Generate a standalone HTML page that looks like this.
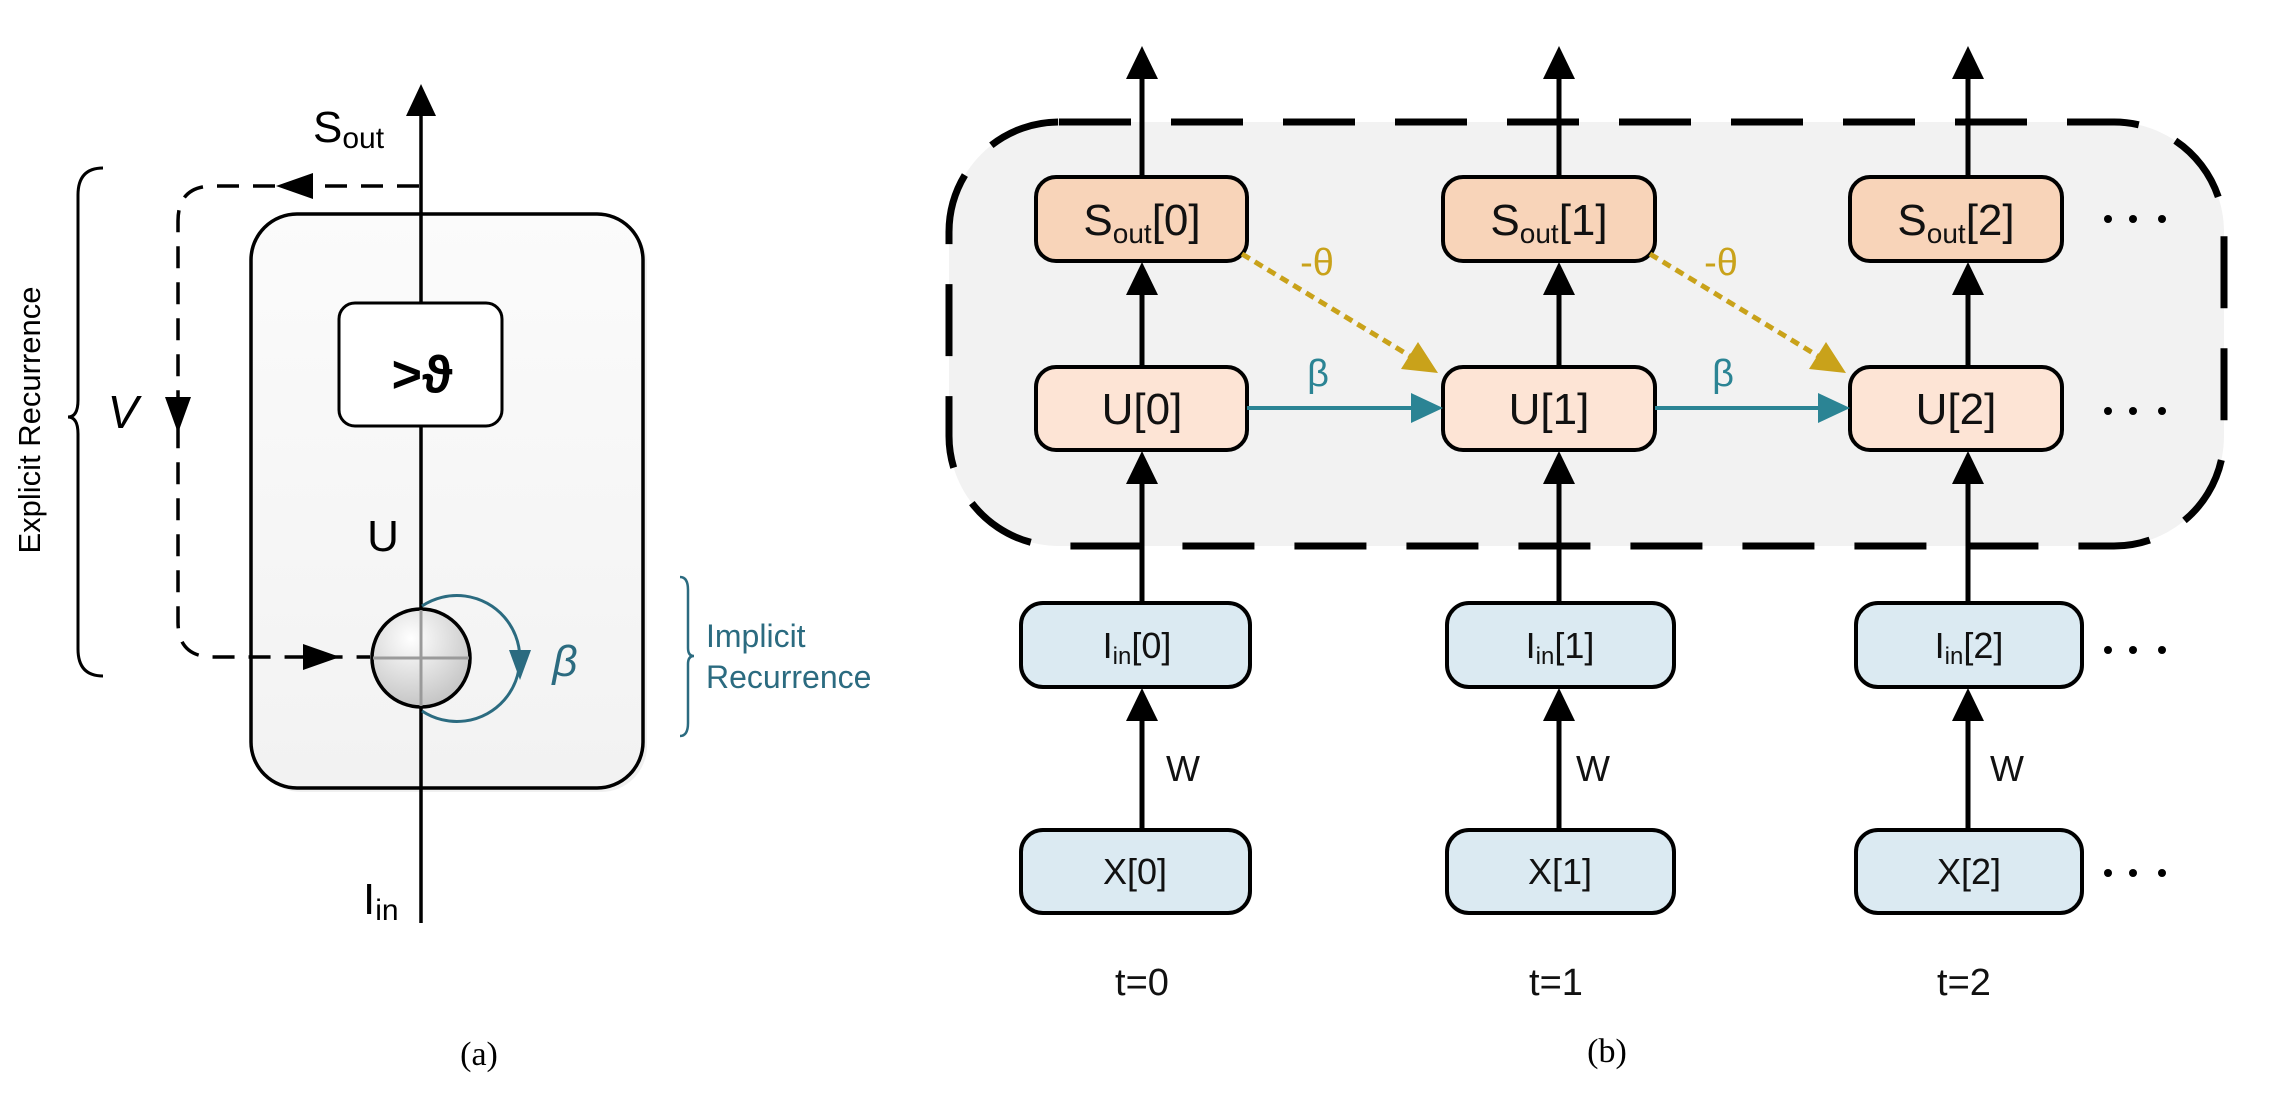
<!DOCTYPE html>
<html><head><meta charset="utf-8"><style>
html,body{margin:0;padding:0;background:#fff;}
svg{display:block;}
text{font-family:"Liberation Sans","DejaVu Sans",sans-serif;}
</style></head><body>
<svg width="2278" height="1100" viewBox="0 0 2278 1100" xmlns="http://www.w3.org/2000/svg">
<defs>
<radialGradient id="cg" cx="0.4" cy="0.3" r="0.8"><stop offset="0" stop-color="#ffffff"/><stop offset="1" stop-color="#bdbdbd"/></radialGradient>
<linearGradient id="bg" x1="0" y1="0" x2="0" y2="1"><stop offset="0" stop-color="#fbfbfb"/><stop offset="1" stop-color="#f2f2f2"/></linearGradient>
</defs>

<!-- ============ Panel (a) ============ -->
<rect x="255" y="218" width="392" height="574" rx="46" fill="#e6e6e6" opacity="0.6"/>
<rect x="251" y="214" width="392" height="574" rx="46" fill="url(#bg)" stroke="#000" stroke-width="3.5"/>
<rect x="339" y="303" width="163" height="123" rx="16" fill="#fff" stroke="#000" stroke-width="3"/>
<text x="422" y="392" font-size="52" font-weight="bold" text-anchor="middle">&gt;ϑ</text>

<line x1="421" y1="110" x2="421" y2="303" stroke="#000" stroke-width="3.5"/>
<line x1="421" y1="426" x2="421" y2="609" stroke="#000" stroke-width="3.5"/>
<line x1="421" y1="707" x2="421" y2="923" stroke="#000" stroke-width="3.5"/>
<polygon points="421,84 406,116 436,116" fill="#000"/>

<path d="M419,186 H213 Q178,186 178,221 V622 Q178,657 213,657 H370" fill="none" stroke="#000" stroke-width="3.5" stroke-dasharray="22 14"/>
<polygon points="276,186 313,173 313,199" fill="#000"/>
<polygon points="165,397 191,397 178,433" fill="#000"/>
<polygon points="340,657 303,644 303,670" fill="#000"/>

<circle cx="421" cy="658" r="49" fill="url(#cg)" stroke="#000" stroke-width="3.5"/>
<line x1="373" y1="658" x2="469" y2="658" stroke="#9a9a9a" stroke-width="3"/>
<line x1="421" y1="610" x2="421" y2="706" stroke="#9a9a9a" stroke-width="3"/>

<path d="M422,606 A63,63 0 1 1 422,711" fill="none" stroke="#2b6b80" stroke-width="3"/>
<polygon points="520,680 509,650 531,650" fill="#2b6b80"/>
<text x="565" y="676" font-size="44" font-style="italic" fill="#2b6b80" text-anchor="middle">β</text>

<text x="313" y="142" font-size="44">S<tspan font-size="30" dy="6">out</tspan></text>
<text x="383" y="551" font-size="44" text-anchor="middle">U</text>
<text x="363" y="914" font-size="44">I<tspan font-size="30" dy="6">in</tspan></text>
<text x="123" y="428" font-size="46" font-style="italic" text-anchor="middle">V</text>

<path d="M103,168 Q78,168 78,195 V400 Q78,417 68,417 Q78,417 78,434 V649 Q78,676 103,676" fill="none" stroke="#000" stroke-width="3"/>
<text transform="translate(40,420) rotate(-90)" font-size="31" text-anchor="middle">Explicit Recurrence</text>

<path d="M680,577 Q688,577 688,590 V648 Q688,656 694,656 Q688,656 688,664 V723 Q688,736 680,736" fill="none" stroke="#2b6b80" stroke-width="2.5"/>
<text x="706" y="647" font-size="32" fill="#2b6b80">Implicit</text>
<text x="706" y="688" font-size="32" fill="#2b6b80">Recurrence</text>

<text x="479" y="1065" font-size="34" text-anchor="middle" style="font-family:'Liberation Serif',serif">(a)</text>

<!-- ============ Panel (b) ============ -->
<rect x="949" y="122" width="1275" height="424" rx="110" fill="#f2f2f2" stroke="#000" stroke-width="7" stroke-dasharray="72 40"/>

<g stroke="#000" stroke-width="5">
<line x1="1142" y1="70" x2="1142" y2="177"/><line x1="1142" y1="290" x2="1142" y2="367"/><line x1="1142" y1="478" x2="1142" y2="603"/><line x1="1142" y1="715" x2="1142" y2="830"/>
<line x1="1559" y1="70" x2="1559" y2="177"/><line x1="1559" y1="290" x2="1559" y2="367"/><line x1="1559" y1="478" x2="1559" y2="603"/><line x1="1559" y1="715" x2="1559" y2="830"/>
<line x1="1968" y1="70" x2="1968" y2="177"/><line x1="1968" y1="290" x2="1968" y2="367"/><line x1="1968" y1="478" x2="1968" y2="603"/><line x1="1968" y1="715" x2="1968" y2="830"/>
</g>
<g fill="#000">
<polygon points="1142,46 1126,79 1158,79"/><polygon points="1142,262 1126,295 1158,295"/><polygon points="1142,451 1126,484 1158,484"/><polygon points="1142,688 1126,721 1158,721"/>
<polygon points="1559,46 1543,79 1575,79"/><polygon points="1559,262 1543,295 1575,295"/><polygon points="1559,451 1543,484 1575,484"/><polygon points="1559,688 1543,721 1575,721"/>
<polygon points="1968,46 1952,79 1984,79"/><polygon points="1968,262 1952,295 1984,295"/><polygon points="1968,451 1952,484 1984,484"/><polygon points="1968,688 1952,721 1984,721"/>
</g>

<g stroke="#000" stroke-width="4">
<rect x="1036" y="177" width="211" height="84" rx="20" fill="#f8d4b9"/>
<rect x="1443" y="177" width="212" height="84" rx="20" fill="#f8d4b9"/>
<rect x="1850" y="177" width="212" height="84" rx="20" fill="#f8d4b9"/>
<rect x="1036" y="367" width="211" height="83" rx="20" fill="#fde4d5"/>
<rect x="1443" y="367" width="212" height="83" rx="20" fill="#fde4d5"/>
<rect x="1850" y="367" width="212" height="83" rx="20" fill="#fde4d5"/>
<rect x="1021" y="603" width="229" height="84" rx="22" fill="#dbeaf2"/>
<rect x="1447" y="603" width="227" height="84" rx="22" fill="#dbeaf2"/>
<rect x="1856" y="603" width="226" height="84" rx="22" fill="#dbeaf2"/>
<rect x="1021" y="830" width="229" height="83" rx="22" fill="#dbeaf2"/>
<rect x="1447" y="830" width="227" height="83" rx="22" fill="#dbeaf2"/>
<rect x="1856" y="830" width="226" height="83" rx="22" fill="#dbeaf2"/>
</g>

<g font-size="44" text-anchor="middle" fill="#111">
<text x="1142" y="235">S<tspan font-size="28" dy="8">out</tspan><tspan dy="-8">[0]</tspan></text>
<text x="1549" y="235">S<tspan font-size="28" dy="8">out</tspan><tspan dy="-8">[1]</tspan></text>
<text x="1956" y="235">S<tspan font-size="28" dy="8">out</tspan><tspan dy="-8">[2]</tspan></text>
<text x="1142" y="424">U[0]</text>
<text x="1549" y="424">U[1]</text>
<text x="1956" y="424">U[2]</text>
</g>
<g font-size="36" text-anchor="middle" fill="#111">
<text x="1137" y="658">I<tspan font-size="24" dy="6">in</tspan><tspan dy="-6">[0]</tspan></text>
<text x="1560" y="658">I<tspan font-size="24" dy="6">in</tspan><tspan dy="-6">[1]</tspan></text>
<text x="1969" y="658">I<tspan font-size="24" dy="6">in</tspan><tspan dy="-6">[2]</tspan></text>
<text x="1135" y="884">X[0]</text>
<text x="1560" y="884">X[1]</text>
<text x="1969" y="884">X[2]</text>
<text x="1183" y="781">W</text>
<text x="1593" y="781">W</text>
<text x="2007" y="781">W</text>
<text x="1142" y="995" font-size="38">t=0</text>
<text x="1556" y="995" font-size="38">t=1</text>
<text x="1964" y="995" font-size="38">t=2</text>
</g>

<g fill="#000">
<circle cx="2108" cy="219" r="4"/><circle cx="2133" cy="219" r="4"/><circle cx="2162" cy="219" r="4"/>
<circle cx="2108" cy="411" r="4"/><circle cx="2133" cy="411" r="4"/><circle cx="2162" cy="411" r="4"/>
<circle cx="2108" cy="650" r="4"/><circle cx="2133" cy="650" r="4"/><circle cx="2162" cy="650" r="4"/>
<circle cx="2108" cy="873" r="4"/><circle cx="2133" cy="873" r="4"/><circle cx="2162" cy="873" r="4"/>
</g>

<g stroke="#2b8494" stroke-width="4">
<line x1="1247" y1="408" x2="1415" y2="408"/>
<line x1="1655" y1="408" x2="1822" y2="408"/>
</g>
<polygon points="1443,408 1411,393 1411,423" fill="#2b8494"/>
<polygon points="1850,408 1818,393 1818,423" fill="#2b8494"/>
<text x="1318" y="386" font-size="38" fill="#2b8494" text-anchor="middle">β</text>
<text x="1723" y="386" font-size="38" fill="#2b8494" text-anchor="middle">β</text>

<g stroke="#c9a21a" stroke-width="5" stroke-dasharray="9 6">
<line x1="1242" y1="254" x2="1410" y2="356"/>
<line x1="1650" y1="254" x2="1818" y2="356"/>
</g>
<polygon points="1438,373 1401,369 1418,342" fill="#c9a21a"/>
<polygon points="1846,373 1809,369 1826,342" fill="#c9a21a"/>
<text x="1317" y="275" font-size="38" fill="#c9a21a" text-anchor="middle">-θ</text>
<text x="1721" y="275" font-size="38" fill="#c9a21a" text-anchor="middle">-θ</text>

<text x="1607" y="1062" font-size="34" text-anchor="middle" style="font-family:'Liberation Serif',serif">(b)</text>
</svg>
</body></html>
